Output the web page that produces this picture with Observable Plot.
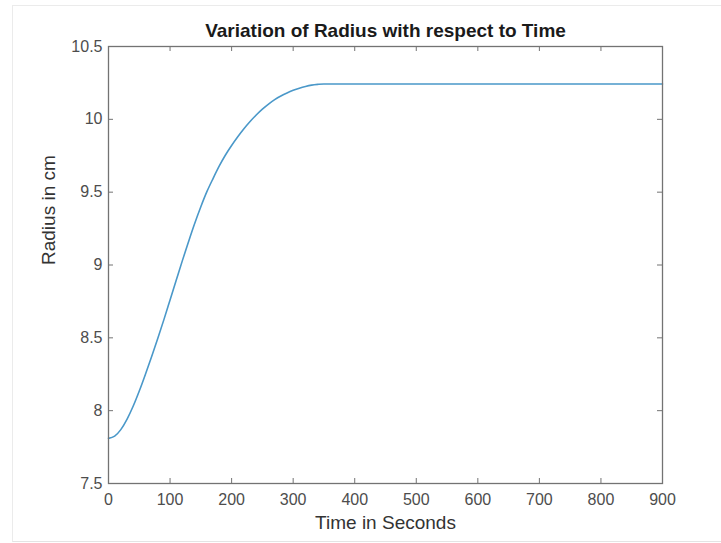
<!DOCTYPE html>
<html>
<head>
<meta charset="utf-8">
<script src="https://cdn.jsdelivr.net/npm/d3@7"></script>
<script src="https://cdn.jsdelivr.net/npm/@observablehq/plot@0.6"></script>
<style>
  html, body { margin: 0; padding: 0; background: #fff; }
  #wrap { position: relative; width: 721px; height: 543px; overflow: hidden; }
  #edge { position: absolute; left: 12px; top: 5px; right: -2px; bottom: 1px;
          border-top: 1px solid #ebebeb; border-left: 1px solid #ebebeb; border-bottom: 1px solid #e4e4e4;
          pointer-events: none; }
  svg { font-family: "Liberation Sans", Arial, Helvetica, sans-serif; }
</style>
</head>
<body>
<div id="wrap"><div id="edge"></div></div>
<script>
// Time samples (s) and radius (cm) of the growth curve
const timeSec = [0, 10, 20, 30, 40, 50, 60, 70, 80, 90, 100, 110, 120, 130, 140, 150, 160, 170, 180, 190,
  200, 210, 220, 230, 240, 250, 260, 270, 280, 290, 300, 310, 320, 330, 340, 350, 400, 500, 600, 700, 800, 900];
const radiusCm = [7.810, 7.825, 7.870, 7.940, 8.030, 8.135, 8.250, 8.370, 8.495, 8.625, 8.760, 8.895, 9.030,
  9.160, 9.285, 9.400, 9.505, 9.595, 9.680, 9.755, 9.820, 9.880, 9.935, 9.985, 10.030, 10.070, 10.105, 10.135,
  10.160, 10.181, 10.199, 10.214, 10.226, 10.235, 10.240, 10.243, 10.243, 10.243, 10.243, 10.243, 10.243, 10.243];

const xTicks = [0, 100, 200, 300, 400, 500, 600, 700, 800, 900];
const yTicks = [7.5, 8, 8.5, 9, 9.5, 10, 10.5];

const titleText = "Variation of Radius with respect to Time";
const xLabel = "Time in Seconds";
const yLabel = "Radius in cm";

const data = timeSec.map((t, i) => ({t, r: radiusCm[i]}));

const W = 721, H = 543;
const mL = 108, mR = 59, mT = 46, mB = 60;
const innerW = W - mL - mR, innerH = H - mT - mB;
const tickLen = 5;
const axisColor = "#737373";

const chart = Plot.plot({
  width: W,
  height: H,
  marginLeft: mL,
  marginRight: mR,
  marginTop: mT,
  marginBottom: mB,
  style: {background: "transparent", fontFamily: "Liberation Sans, Arial, sans-serif"},
  x: {domain: [0, 900]},
  y: {domain: [7.5, 10.5]},
  marks: [
    // inward tick marks on all four sides of the box
    Plot.tickX(xTicks, {x: d => d, insetTop: innerH - tickLen, stroke: axisColor}),
    Plot.tickX(xTicks, {x: d => d, insetBottom: innerH - tickLen, stroke: axisColor}),
    Plot.tickY(yTicks, {y: d => d, insetRight: innerW - tickLen, stroke: axisColor}),
    Plot.tickY(yTicks, {y: d => d, insetLeft: innerW - tickLen, stroke: axisColor}),
    Plot.axisX(xTicks, {tickSize: 0, tickPadding: 10, fontSize: 16, fill: "#4d4d4d", label: null}),
    Plot.axisY(yTicks, {tickSize: 0, tickPadding: 6, fontSize: 16, fill: "#4d4d4d", label: null,
      tickFormat: d => String(d)}),
    Plot.lineY(data, {x: "t", y: "r", stroke: "#4a98c9", strokeWidth: 1.6, curve: "monotone-x"}),
    Plot.frame({stroke: axisColor, strokeWidth: 1.3}),
    Plot.text([titleText], {text: d => d, frameAnchor: "top", lineAnchor: "middle", dy: -16, fontSize: 19,
      fontWeight: "bold", fill: "#1a1a1a"}),
    Plot.text([xLabel], {text: d => d, frameAnchor: "bottom", lineAnchor: "middle", dy: 39, fontSize: 19, fill: "#333"}),
    Plot.text([yLabel], {text: d => d, frameAnchor: "left", dx: -60, rotate: -90, fontSize: 19, fill: "#333"})
  ]
});

document.getElementById("wrap").prepend(chart);
</script>
</body>
</html>
